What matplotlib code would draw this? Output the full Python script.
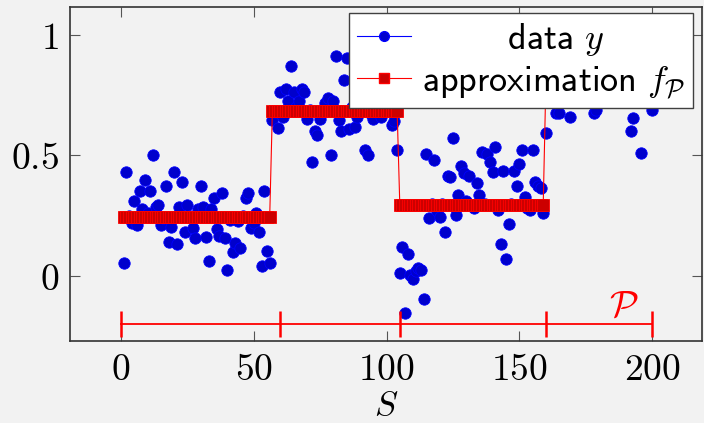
import numpy as np
import matplotlib
matplotlib.use('Agg')
import matplotlib.pyplot as plt
from matplotlib.lines import Line2D
from matplotlib.ticker import FuncFormatter

plt.rcParams['mathtext.fontset'] = 'cm'
plt.rcParams['font.family'] = ['DejaVu Sans']

# ---------------- data ----------------
y_seg1 = [0.055, 0.433, 0.25, 0.22, 0.31, 0.21, 0.354, 0.278, 0.40, 0.26,
          0.354, 0.502, 0.288, 0.295, 0.21, 0.24, 0.373, 0.142, 0.205, 0.433,
          0.133, 0.286, 0.391, 0.184, 0.295, 0.25, 0.198, 0.156, 0.277, 0.373,
          0.285, 0.163, 0.062, 0.277, 0.322, 0.195, 0.166, 0.343, 0.156, 0.025,
          0.232, 0.10, 0.136, 0.23, 0.115, 0.25, 0.322, 0.346, 0.198, 0.22,
          0.26, 0.184, 0.041, 0.353, 0.104, 0.052]
y_seg2 = [0.647, 0.68, 0.613, 0.762, 0.658, 0.775, 0.724, 0.872, 0.762, 0.70,
          0.724, 0.775, 0.762, 0.65, 0.69, 0.474, 0.60, 0.585, 0.65, 0.68,
          0.717, 0.737, 0.502, 0.724, 0.914, 0.647, 0.60, 0.813, 0.903, 0.61,
          0.70, 0.617, 0.66, 0.75, 0.69, 0.523, 0.502, 0.67, 0.65, 0.80,
          0.70, 0.66, 0.72, 0.69, 0.71, 0.627, 0.645, 0.523]
y_seg3 = [0.014, 0.118, -0.155, 0.09, 0.004, -0.014, 0.02, 0.032, 0.025, -0.097,
          0.506, 0.239, 0.30, 0.481, 0.27, 0.243, 0.30, 0.184, 0.415, 0.412,
          0.574, 0.253, 0.336, 0.456, 0.426, 0.31, 0.415, 0.29, 0.281, 0.385,
          0.336, 0.516, 0.30, 0.506, 0.474, 0.433, 0.537, 0.274, 0.133, 0.436,
          0.069, 0.215, 0.30, 0.436, 0.373, 0.465, 0.523, 0.329, 0.28, 0.274,
          0.523, 0.388, 0.373, 0.363, 0.26]
y_seg4 = [0.592, 0.78, 0.85, 0.74, 0.675, 0.678, 0.82, 0.90, 0.76, 0.661,
          0.79, 0.88, 0.73, 0.95, 0.80, 0.77, 0.86, 0.74, 0.675, 0.689,
          0.83, 0.92, 0.78, 0.75, 0.87, 0.81, 0.73, 0.97, 0.79, 0.84,
          0.76, 0.80, 0.603, 0.654, 0.88, 0.82, 0.512, 0.78, 0.93, 0.74,
          0.689]

approx_levels = [0.243, 0.683, 0.294, 0.80]
approx_last_S = [56, 104, 159, 200]
partition_points = [0, 60, 105, 160, 200]
x_ticks = [0, 50, 100, 150, 200]
y_ticks = [0, 0.5, 1]

data_y = np.array(y_seg1 + y_seg2 + y_seg3 + y_seg4)
S = np.arange(1, len(data_y) + 1)
seg_idx = np.searchsorted(np.array(approx_last_S), S, side='left')
approx_y = np.array(approx_levels)[seg_idx]

# ---------------- figure ----------------
bg = '#f2f2f2'
fig = plt.figure(figsize=(7.04, 4.23), dpi=100, facecolor=bg)
ax = fig.add_axes([70/704, 1 - 341/423, 632/704, 334/423])
ax.set_facecolor(bg)

ax.plot(S, data_y, linestyle='none', marker='o', markersize=8.2,
        markerfacecolor='#0000cc', markeredgecolor='#0000ff', markeredgewidth=0.6,
        zorder=3)
ax.plot(S, approx_y, color='#ff0000', linewidth=0.8, marker='s', markersize=8.4,
        markerfacecolor='#cc0000', markeredgecolor='#ff0000', markeredgewidth=0.6,
        zorder=4)

# partition
ax.plot(partition_points, [-0.2] * len(partition_points), color='#ff0000', linewidth=1.3,
        marker='|', markersize=19, markeredgewidth=1.8, zorder=4)
ax.text(189.5, -0.13, r'$\mathcal{P}$', color='#ff0000', fontsize=27,
        ha='center', va='center')

ax.set_xlim(-19.2, 218.8)
ax.set_ylim(-0.270, 1.116)
ax.set_xticks(x_ticks)
ax.set_yticks(y_ticks)
fmt = FuncFormatter(lambda v, p: '$%g$' % v)
ax.xaxis.set_major_formatter(fmt)
ax.yaxis.set_major_formatter(fmt)
ax.tick_params(axis='both', direction='in', length=7, width=0.8, color='#555555',
               labelsize=27, top=True, right=True, pad=8)
for sp in ax.spines.values():
    sp.set_color('#333333')
    sp.set_linewidth(1.2)

ax.set_xlabel(r'$S$', fontsize=25, labelpad=0)

handles = [
    Line2D([], [], color='#0000ff', linewidth=0.8, marker='o', markersize=7,
           markerfacecolor='#0000cc', markeredgecolor='#0000ff'),
    Line2D([], [], color='#ff0000', linewidth=0.8, marker='s', markersize=7,
           markerfacecolor='#cc0000', markeredgecolor='#ff0000'),
]
labels = [r'$\hspace{2.7}\mathsf{data}\ y$', r'$\mathsf{approximation}\ f_{\mathcal{P}}$']
leg = ax.legend(handles, labels, loc='upper right', bbox_to_anchor=(0.9858, 0.982),
                borderaxespad=0, fontsize=26, handlelength=1.5, handletextpad=0.3,
                borderpad=0.22, labelspacing=0.16, fancybox=False, framealpha=1,
                facecolor='white', edgecolor='#404040')
leg.get_frame().set_linewidth(1.0)
leg.set_zorder(10)

fig.savefig('out.png', dpi=100, facecolor=bg)
